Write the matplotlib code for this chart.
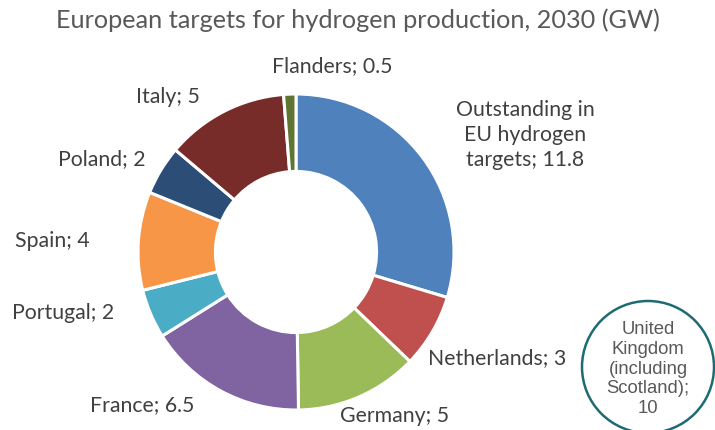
import matplotlib.pyplot as plt
from matplotlib.patches import Circle

# data
labels = ["Outstanding in\nEU hydrogen\ntargets", "Netherlands", "Germany", "France",
          "Portugal", "Spain", "Poland", "Italy", "Flanders"]
values = [11.8, 3, 5, 6.5, 2, 4, 2, 5, 0.5]
colors = ["#4F81BD", "#C0504D", "#9BBB59", "#8064A2", "#4BACC6",
          "#F79646", "#2C4D75", "#772C2A", "#5F7530"]
uk_label = "United\nKingdom\n(including\nScotland);\n10"

# label anchor points (pixels, origin bottom-left)
label_pos = [(525, 295), (497, 72), (395, 14), (142, 25), (63, 117),
             (52, 189), (102, 271), (168, 333), (332, 364)]

plt.rcParams['font.family'] = ['Lato', 'DejaVu Sans']

fig = plt.figure(figsize=(7.15, 4.3), dpi=100)
ax = fig.add_axes([0, 0, 1, 1])

center = (296, 178)
R = 158
ax.pie(values, colors=colors, startangle=90, counterclock=False,
       center=center, radius=R, frame=True,
       wedgeprops=dict(width=R * 0.49, edgecolor='white', linewidth=2.2))
ax.set_xlim(0, 715)
ax.set_ylim(0, 430)
ax.set_aspect('equal')
ax.axis('off')

for lab, v, (x, y) in zip(labels, values, label_pos):
    ax.text(x, y, f"{lab}; {v:g}", ha='center', va='center', fontsize=15.3,
            color='#404040', linespacing=1.3)

# UK circle
ax.add_patch(Circle((648, 63), 66, facecolor='white', edgecolor='#1E6B73',
                    linewidth=1.8, clip_on=False))
ax.text(648, 61, uk_label, ha='center', va='center', fontsize=13.3,
        color='#595959', family=['Liberation Sans', 'DejaVu Sans'],
        linespacing=1.2)

fig.text(358 / 715, 1 - 20 / 430, "European targets for hydrogen production, 2030 (GW)",
         ha='center', va='center', fontsize=18.2, color='#595959')

fig.savefig("out.png", dpi=100)
